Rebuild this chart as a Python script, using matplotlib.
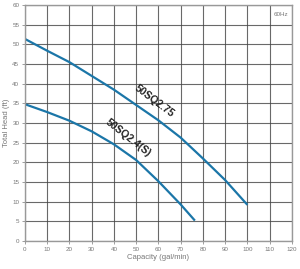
import matplotlib.pyplot as plt
import numpy as np

plt.rcParams["font.family"] = ["Liberation Sans", "DejaVu Sans"]

# pump curves
q_275 = [0, 10, 20, 30, 40, 50, 60, 70, 80, 90, 100]
h_275 = [51.4, 48.4, 45.5, 42.0, 38.5, 34.6, 30.7, 26.3, 21.0, 15.5, 9.2]
q_24 = [0, 10, 20, 30, 40, 50, 60, 70, 76.4]
h_24 = [34.8, 32.8, 30.6, 27.9, 24.6, 20.6, 15.2, 9.3, 5.2]

x_ticks = list(range(0, 121, 10))
y_ticks = list(range(0, 61, 5))

BLUE = "#1b76a8"
GRAY = "#777777"

fig = plt.figure(figsize=(3.0, 2.69), dpi=100)
ax = fig.add_axes([0.083, 0.104, 0.89, 0.877])

ax.plot(q_275, h_275, color=BLUE, linewidth=1.6, solid_capstyle="butt")
ax.plot(q_24, h_24, color=BLUE, linewidth=1.6, solid_capstyle="butt")

ax.set_xlim(0, 120)
ax.set_ylim(0, 60)
ax.set_xticks(x_ticks)
ax.set_yticks(y_ticks)
ax.grid(True, color="#444444", linewidth=0.8, alpha=0.8)
ax.tick_params(labelsize=4.5, colors=GRAY, length=2, width=0.5, pad=2)
for s in ax.spines.values():
    s.set_color("#999999")
    s.set_linewidth(1.0)

ax.set_xlabel("Capacity (gal/min)", fontsize=5.5, color=GRAY, labelpad=2)
ax.set_ylabel("Total Head (ft)", fontsize=5.5, color=GRAY, labelpad=1)
ax.yaxis.set_label_coords(-0.055, 0.5)

ax.text(58.2, 35.6, "50SQ2.75", rotation=-37, fontsize=7.5, fontweight="bold",
        color="#222222", ha="center", va="center", rotation_mode="anchor")
ax.text(46.3, 26.2, "50SQ2.4(S)", rotation=-38, fontsize=7.5, fontweight="bold",
        color="#222222", ha="center", va="center", rotation_mode="anchor")
ax.text(115, 57.5, "60Hz", fontsize=4.5, color=GRAY, ha="center", va="center")

fig.savefig("out.png", dpi=100)
